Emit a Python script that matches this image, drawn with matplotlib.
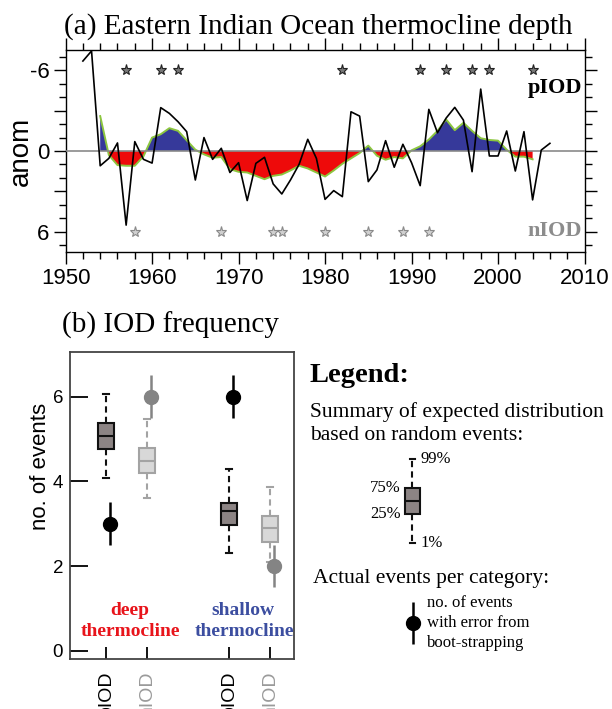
import numpy as np
import matplotlib.pyplot as plt
from matplotlib.ticker import MultipleLocator, FixedLocator, FuncFormatter

plt.rcParams['axes.unicode_minus'] = False
SANS = 'Liberation Sans'
SERIF = 'Liberation Serif'

# ---- panel (a): eastern Indian Ocean thermocline depth anomaly ----
years_raw = np.arange(1952, 2007)
depth_raw = [-6.7, -7.45, 1.1, 0.55, -0.6, 5.52, -0.7, 0.62, 0.9, -3.23,
             -2.8, -2.18, -1.44, 2.16, -1.0, 0.62, -0.2, 1.6, 0.87, 3.69,
             0.92, 0.47, 2.45, 3.2, 2.16, 0.99, -0.87, 0.55, 3.6, 2.95,
             3.4, -2.92, -2.6, 2.28, 1.41, -0.77, 1.21, -0.5, 0.87, 2.58,
             -3.1, -1.36, -2.45, -3.25, -2.3, 1.54, -4.61, 0.37, 0.37, -1.49,
             1.49, -1.44, 3.64, -0.07, -0.57]

years_smooth = np.arange(1954, 2005)
depth_smooth = [-2.6, 0.3, 1.05, 1.1, 1.1, 0.4, -1.0, -1.25, -1.7, -1.5,
                -0.8, -0.1, 0.25, 0.5, 0.45, 1.35, 1.55, 1.6, 1.85, 2.1,
                1.85, 1.75, 1.45, 1.1, 1.3, 1.6, 1.9, 1.45, 0.95, 0.55,
                0.15, -0.4, 0.35, 0.65, 0.45, 0.55, -0.05, -0.35, -0.85, -1.5,
                -2.35, -1.55, -2.1, -1.5, -0.95, -0.82, -0.77, -0.1, 0.42, 0.42,
                0.62]

piod_years = [1957, 1961, 1963, 1982, 1991, 1994, 1997, 1999, 2004]
niod_years = [1958, 1968, 1974, 1975, 1980, 1985, 1989, 1992]

# ---- panel (b): IOD frequency ----
box_labels = ['pIOD', 'nIOD', 'pIOD', 'nIOD']
box_pos = [1, 2, 4, 5]
box_p01 = [4.07, 3.6, 2.3, 2.1]
box_p25 = [4.77, 4.19, 2.97, 2.57]
box_p50 = [5.08, 4.49, 3.29, 2.89]
box_p75 = [5.38, 4.78, 3.48, 3.19]
box_p99 = [6.07, 5.47, 4.28, 3.87]
obs_events = [3, 6, 6, 2]
obs_err = [0.5, 0.5, 0.5, 0.5]

W, H = 612, 709
fig = plt.figure(figsize=(W / 100, H / 100), dpi=100)


def px_axes(l, t, r, b):
    return fig.add_axes([l / W, 1 - b / H, (r - l) / W, (b - t) / H])


def ftext(x, y, s, **kw):
    fig.text(x / W, 1 - y / H, s, **kw)


# ================= top panel =================
ax1 = px_axes(65.6, 50.3, 584.5, 251.7)
ys = np.array(depth_smooth)
ax1.fill_between(years_smooth, ys, 0, where=ys <= 0, interpolate=True,
                 color='#36399a', lw=0, zorder=1)
ax1.fill_between(years_smooth, ys, 0, where=ys >= 0, interpolate=True,
                 color='#ee0a0a', lw=0, zorder=1)
ax1.plot(years_smooth, ys, color='#8cc63f', lw=1.4, zorder=2)
ax1.axhline(0, color='#8a8a8a', lw=1.2, zorder=3)
ax1.plot(years_raw, depth_raw, color='black', lw=1.2, zorder=4)

ax1.plot(piod_years, [-6] * len(piod_years), ls='none', marker='*', ms=8,
         mfc='#777777', mec='#222222', mew=0.8, zorder=5)
ax1.plot(niod_years, [6] * len(niod_years), ls='none', marker='*', ms=8,
         mfc='#d0d0d0', mec='#8a8a8a', mew=0.8, zorder=5)

ax1.text(0.995, -4.3, 'pIOD', transform=ax1.get_yaxis_transform(),
         ha='right', va='baseline', fontsize=16, fontweight='bold',
         family=SERIF, color='black')
ax1.text(0.995, 6.33, 'nIOD', transform=ax1.get_yaxis_transform(),
         ha='right', va='baseline', fontsize=16, fontweight='bold',
         family=SERIF, color='#8c8c8c')

ax1.set_xlim(1950, 2010)
ax1.set_ylim(7.5, -7.5)
ax1.xaxis.set_major_locator(MultipleLocator(10))
ax1.xaxis.set_minor_locator(MultipleLocator(2))
ax1.yaxis.set_major_locator(FixedLocator([-6, -3, 0, 3, 6]))
ax1.yaxis.set_minor_locator(MultipleLocator(1))
ax1.yaxis.set_major_formatter(FuncFormatter(
    lambda v, p: '%d' % v if abs(v) in (0, 6) else ''))
ax1.tick_params(which='major', direction='out', length=8.6, width=1.0,
                top=True, right=True, labelsize=16, pad=3)
ax1.tick_params(which='minor', direction='out', length=4.8, width=1.0,
                top=True, right=True)
for lab in ax1.get_xticklabels() + ax1.get_yticklabels():
    lab.set_family(SANS)
for sp in ax1.spines.values():
    sp.set_linewidth(1.0)

ftext(20.5, 151, 'anom', rotation=90, ha='center', va='center',
      fontsize=20, family=SANS)
ftext(64, 33.3, '(a) Eastern Indian Ocean thermocline depth',
      ha='left', va='baseline', fontsize=21, family=SERIF)

# ================= bottom panel =================
ax2 = px_axes(70, 352, 294, 659.3)
stats = []
for i in range(len(box_pos)):
    stats.append(dict(whislo=box_p01[i], q1=box_p25[i], med=box_p50[i],
                      q3=box_p75[i], whishi=box_p99[i]))


def draw_boxes(ax, st, pos, edge, face):
    ax.bxp(st, positions=pos, widths=0.38, showfliers=False,
           patch_artist=True,
           boxprops=dict(facecolor=face, edgecolor=edge, lw=1.5),
           medianprops=dict(color=edge, lw=1.5),
           whiskerprops=dict(color=edge, lw=1.5, ls=(0, (3, 2))),
           capprops=dict(color=edge, lw=1.5), capwidths=0.13)


draw_boxes(ax2, [stats[0], stats[2]], [box_pos[0], box_pos[2]],
           '#111111', '#8c8484')
draw_boxes(ax2, [stats[1], stats[3]], [box_pos[1], box_pos[3]],
           '#a3a3a3', '#d8d8d8')

obs_colors = ['black', '#848484', 'black', '#848484']
for i in range(len(box_pos)):
    ax2.errorbar(box_pos[i] + 0.1, obs_events[i], yerr=obs_err[i], fmt='o',
                 ms=10, color=obs_colors[i], elinewidth=1.8, capsize=0,
                 zorder=5)

ax2.text(1.585, 0.96, 'deep', ha='center', va='center', fontsize=14,
         fontweight='bold', family=SERIF, color='#e8141b')
ax2.text(1.585, 0.45, 'thermocline', ha='center', va='center', fontsize=14,
         fontweight='bold', family=SERIF, color='#e8141b')
ax2.text(4.33, 0.96, 'shallow', ha='center', va='center', fontsize=14,
         fontweight='bold', family=SERIF, color='#3c4ea0')
ax2.text(4.37, 0.45, 'thermocline', ha='center', va='center', fontsize=14,
         fontweight='bold', family=SERIF, color='#3c4ea0')

ax2.set_xlim(0.12, 5.585)
ax2.set_ylim(-0.203, 7.054)
ax2.set_yticks([0, 2, 4, 6])
ax2.set_xticks(box_pos, box_labels, rotation=90)
ax2.tick_params(axis='y', direction='in', length=13, width=1.3,
                labelsize=13.5, pad=5)
ax2.tick_params(axis='x', direction='in', length=9, width=1.3,
                labelsize=14, pad=8)
for lab, c in zip(ax2.get_xticklabels(), obs_colors):
    lab.set_color('black' if c == 'black' else '#9a9a9a')
    lab.set_va('top')
for lab in ax2.get_xticklabels() + ax2.get_yticklabels():
    lab.set_family(SANS)
for sp in ax2.spines.values():
    sp.set_linewidth(1.3)
    sp.set_color('#444444')

ftext(40, 466, 'no. of events', rotation=90, ha='center', va='center',
      fontsize=16, family=SANS)
ftext(62, 332.3, '(b) IOD frequency', ha='left', va='baseline',
      fontsize=21, family=SERIF)

# ================= legend =================
ftext(310, 382.3, 'Legend:', ha='left', va='baseline', fontsize=20.5,
      fontweight='bold', family=SERIF)
ftext(310, 416.7, 'Summary of expected distribution', ha='left',
      va='baseline', fontsize=15.5, family=SERIF)
ftext(310, 440, 'based on random events:', ha='left', va='baseline',
      fontsize=15.5, family=SERIF)
ftext(313, 583.3, 'Actual events per category:', ha='left', va='baseline',
      fontsize=15.5, family=SERIF)
ftext(426.7, 606.7, 'no. of events', ha='left', va='baseline', fontsize=12,
      family=SERIF)
ftext(426.7, 627.3, 'with error from', ha='left', va='baseline', fontsize=12,
      family=SERIF)
ftext(426.7, 646.7, 'boot-strapping', ha='left', va='baseline', fontsize=12,
      family=SERIF)

# legend glyphs share the y scale of panel (b)
scale = 307.3 / (7.054 + 0.203)   # px per event
lg = px_axes(391.8, 445, 432.8, 665)
ref = stats[0]
ytop = ref['med'] + (500.7 - 445) / scale
ybot = ytop - (665 - 445) / scale
lg.set_xlim(-0.5, 0.5)
lg.set_ylim(ybot, ytop)
lg.axis('off')
draw_boxes(lg, [ref], [0], '#111111', '#8c8484')
ypt = ref['med'] - (622.7 - 500.7) / scale
lg.errorbar(0.02, ypt, yerr=0.5, fmt='o', ms=10, color='black',
            elinewidth=1.8, capsize=0)
for lab, y, x, ha in [('99%', ref['whishi'], 0.2, 'left'),
                      ('75%', ref['q3'], -0.29, 'right'),
                      ('25%', ref['q1'], -0.29, 'right'),
                      ('1%', ref['whislo'], 0.2, 'left')]:
    lg.text(x, y, lab, ha=ha, va='center', fontsize=12, family=SERIF,
            clip_on=False)

fig.savefig('out.png', dpi=100)
